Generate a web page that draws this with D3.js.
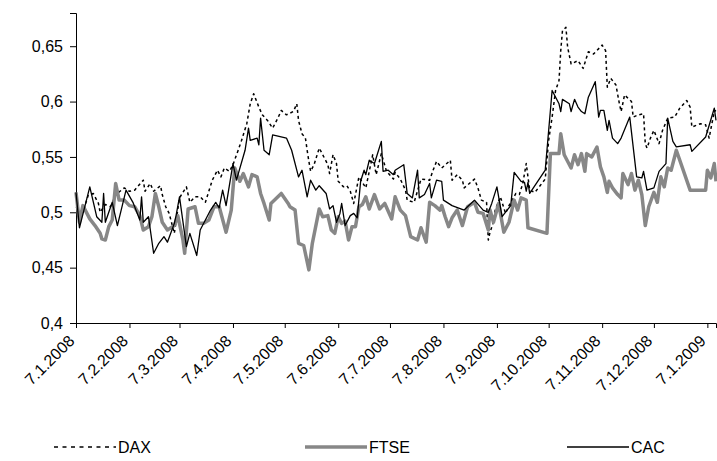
<!DOCTYPE html>
<html>
<head>
<meta charset="utf-8">
<script src="https://cdn.jsdelivr.net/npm/d3@7"></script>
<style>
  body { margin: 0; background: #fff; }
  svg { display: block; font-family: "Liberation Sans", Arial, sans-serif; }
</style>
</head>
<body>
<div class="chart"></div>
<script>
  'use strict';

  // tick values
  var yTicks = [0.4, 0.45, 0.5, 0.55, 0.6, 0.65];
  var xTickLabels = ['7.1.2008', '7.2.2008', '7.3.2008', '7.4.2008', '7.5.2008', '7.6.2008',
    '7.7.2008', '7.8.2008', '7.9.2008', '7.10.2008', '7.11.2008', '7.12.2008', '7.1.2009'];
  var seriesNames = ['DAX', 'FTSE', 'CAC'];

  var daxDates = ['7.1.2008','11.1.2008','14.1.2008','17.1.2008','20.1.2008','21.1.2008','24.1.2008','27.1.2008','30.1.2008',
    '4.2.2008','7.2.2008','10.2.2008','15.2.2008','16.2.2008','19.2.2008','21.2.2008','25.2.2008','26.2.2008','28.2.2008',
    '1.3.2008','4.3.2008','7.3.2008','11.3.2008','13.3.2008','16.3.2008','19.3.2008','22.3.2008','26.3.2008','29.3.2008','31.3.2008',
    '2.4.2008','5.4.2008','7.4.2008','10.4.2008','12.4.2008','15.4.2008','17.4.2008','19.4.2008','22.4.2008','24.4.2008','27.4.2008','30.4.2008',
    '3.5.2008','5.5.2008','8.5.2008','12.5.2008','14.5.2008','15.5.2008','17.5.2008','19.5.2008','20.5.2008','21.5.2008','22.5.2008','24.5.2008','27.5.2008','29.5.2008',
    '1.6.2008','2.6.2008','4.6.2008','6.6.2008','7.6.2008','10.6.2008','12.6.2008','14.6.2008','16.6.2008','18.6.2008','19.6.2008','23.6.2008','27.6.2008','29.6.2008',
    '2.7.2008','5.7.2008','9.7.2008','10.7.2008','13.7.2008','16.7.2008','17.7.2008','21.7.2008','25.7.2008','30.7.2008',
    '1.8.2008','3.8.2008','6.8.2008','11.8.2008','12.8.2008','15.8.2008','18.8.2008','19.8.2008','22.8.2008','25.8.2008','27.8.2008','29.8.2008',
    '1.9.2008','2.9.2008','3.9.2008','5.9.2008','6.9.2008','9.9.2008','12.9.2008','14.9.2008','18.9.2008','20.9.2008','22.9.2008','24.9.2008','26.9.2008','29.9.2008',
    '2.10.2008','5.10.2008','7.10.2008','9.10.2008','11.10.2008','13.10.2008','14.10.2008','15.10.2008','17.10.2008','18.10.2008','20.10.2008','24.10.2008','27.10.2008','30.10.2008',
    '2.11.2008','7.11.2008','9.11.2008','10.11.2008','12.11.2008','15.11.2008','17.11.2008','18.11.2008','20.11.2008','24.11.2008','25.11.2008','28.11.2008',
    '1.12.2008','2.12.2008','3.12.2008','5.12.2008','7.12.2008','10.12.2008','12.12.2008','15.12.2008','19.12.2008','22.12.2008','26.12.2008','28.12.2008','29.12.2008',
    '3.1.2009','6.1.2009','8.1.2009','11.1.2009','12.1.2009'];
  var daxValues = [0.505,0.500,0.515,0.517,0.508,0.500,0.507,0.505,0.516,
    0.522,0.519,0.520,0.529,0.519,0.526,0.519,0.524,0.516,0.505,
    0.499,0.481,0.513,0.523,0.509,0.514,0.514,0.509,0.529,0.538,0.532,
    0.540,0.537,0.543,0.556,0.565,0.580,0.598,0.607,0.595,0.588,0.583,0.576,
    0.585,0.592,0.588,0.591,0.598,0.583,0.571,0.567,0.556,0.546,0.537,0.543,0.558,0.552,
    0.543,0.535,0.552,0.544,0.528,0.523,0.524,0.519,0.508,0.524,0.532,0.522,0.552,0.534,
    0.553,0.537,0.530,0.536,0.530,0.520,0.511,0.509,0.530,0.529,
    0.538,0.546,0.540,0.547,0.529,0.534,0.529,0.522,0.526,0.530,0.522,0.511,
    0.509,0.475,0.482,0.491,0.502,0.514,0.499,0.506,0.517,0.516,0.526,0.544,0.520,0.518,
    0.524,0.530,0.565,0.586,0.610,0.619,0.646,0.664,0.667,0.649,0.634,0.637,0.630,0.645,
    0.643,0.651,0.646,0.613,0.621,0.615,0.598,0.591,0.606,0.600,0.586,0.588,
    0.589,0.562,0.558,0.567,0.574,0.562,0.574,0.585,0.586,0.594,0.601,0.595,0.577,
    0.580,0.579,0.567,0.591,0.592];

  var ftseDates = ['7.1.2008','9.1.2008','11.1.2008','15.1.2008','18.1.2008','21.1.2008','22.1.2008','24.1.2008','26.1.2008','28.1.2008','30.1.2008',
    '1.2.2008','4.2.2008','7.2.2008','10.2.2008','13.2.2008','15.2.2008','18.2.2008','20.2.2008','22.2.2008','24.2.2008','26.2.2008','29.2.2008',
    '4.3.2008','6.3.2008','9.3.2008','10.3.2008','12.3.2008','16.3.2008','18.3.2008','21.3.2008','24.3.2008','27.3.2008','30.3.2008',
    '3.4.2008','6.4.2008','8.4.2008','11.4.2008','13.4.2008','16.4.2008','18.4.2008','21.4.2008','23.4.2008','25.4.2008','28.4.2008','29.4.2008',
    '5.5.2008','9.5.2008','10.5.2008','13.5.2008','15.5.2008','18.5.2008','21.5.2008','23.5.2008','27.5.2008','29.5.2008',
    '1.6.2008','3.6.2008','5.6.2008','7.6.2008','9.6.2008','11.6.2008','13.6.2008','15.6.2008','17.6.2008','19.6.2008','21.6.2008','23.6.2008','25.6.2008','28.6.2008',
    '1.7.2008','4.7.2008','8.7.2008','10.7.2008','13.7.2008','16.7.2008','19.7.2008','23.7.2008','25.7.2008','28.7.2008','30.7.2008',
    '2.8.2008','5.8.2008','6.8.2008','8.8.2008','10.8.2008','12.8.2008','15.8.2008','18.8.2008','21.8.2008','25.8.2008','27.8.2008','30.8.2008',
    '2.9.2008','3.9.2008','5.9.2008','8.9.2008','11.9.2008','14.9.2008','17.9.2008','19.9.2008','21.9.2008','24.9.2008','25.9.2008',
    '6.10.2008','8.10.2008','13.10.2008','14.10.2008','16.10.2008','20.10.2008','22.10.2008','24.10.2008','26.10.2008','28.10.2008','29.10.2008',
    '1.11.2008','4.11.2008','6.11.2008','8.11.2008','10.11.2008','11.11.2008','13.11.2008','16.11.2008','18.11.2008','19.11.2008','22.11.2008','24.11.2008','26.11.2008','28.11.2008','30.11.2008',
    '2.12.2008','4.12.2008','7.12.2008','9.12.2008','11.12.2008','13.12.2008','15.12.2008','17.12.2008','20.12.2008','28.12.2008',
    '6.1.2009','7.1.2009','9.1.2009','11.1.2009','12.1.2009'];
  var ftseValues = [0.518,0.491,0.506,0.494,0.488,0.481,0.476,0.475,0.487,0.493,0.526,
    0.511,0.511,0.506,0.505,0.497,0.484,0.487,0.496,0.517,0.505,0.491,0.484,
    0.488,0.497,0.475,0.463,0.503,0.505,0.490,0.490,0.493,0.505,0.505,
    0.482,0.502,0.540,0.528,0.535,0.523,0.534,0.532,0.517,0.508,0.493,0.508,
    0.517,0.508,0.505,0.502,0.472,0.470,0.448,0.472,0.503,0.496,
    0.497,0.484,0.481,0.496,0.490,0.492,0.475,0.487,0.487,0.505,0.507,0.514,0.503,0.516,
    0.503,0.508,0.494,0.514,0.502,0.497,0.478,0.475,0.486,0.473,0.509,
    0.506,0.502,0.506,0.496,0.487,0.495,0.502,0.488,0.505,0.509,0.500,0.499,
    0.484,0.502,0.491,0.508,0.482,0.491,0.511,0.502,0.513,0.511,0.486,
    0.481,0.553,0.553,0.571,0.552,0.540,0.552,0.543,0.553,0.537,0.553,
    0.550,0.559,0.541,0.532,0.518,0.528,0.522,0.516,0.513,0.535,0.525,0.535,0.520,0.529,0.516,
    0.488,0.505,0.518,0.509,0.532,0.523,0.540,0.538,0.556,0.520,
    0.520,0.538,0.531,0.544,0.528];

  var cacDates = ['7.1.2008','9.1.2008','15.1.2008','19.1.2008','22.1.2008','23.1.2008','24.1.2008','28.1.2008','31.1.2008',
    '5.2.2008','9.2.2008','13.2.2008','14.2.2008','15.2.2008','18.2.2008','21.2.2008','24.2.2008','27.2.2008','29.2.2008',
    '4.3.2008','5.3.2008','7.3.2008','11.3.2008','13.3.2008','17.3.2008','19.3.2008','25.3.2008','28.3.2008','30.3.2008',
    '1.4.2008','3.4.2008','7.4.2008','9.4.2008','14.4.2008','16.4.2008','17.4.2008','21.4.2008','22.4.2008','23.4.2008','25.4.2008','28.4.2008','30.4.2008',
    '8.5.2008','11.5.2008','15.5.2008','17.5.2008','20.5.2008','22.5.2008','25.5.2008','27.5.2008','31.5.2008',
    '2.6.2008','4.6.2008','6.6.2008','8.6.2008','9.6.2008','11.6.2008','14.6.2008','16.6.2008','18.6.2008','20.6.2008','22.6.2008','23.6.2008','25.6.2008','28.6.2008','29.6.2008',
    '2.7.2008','3.7.2008','6.7.2008','9.7.2008','10.7.2008','15.7.2008','17.7.2008','20.7.2008','23.7.2008','24.7.2008','27.7.2008','30.7.2008','31.7.2008',
    '3.8.2008','6.8.2008','7.8.2008','12.8.2008','19.8.2008','25.8.2008','30.8.2008',
    '2.9.2008','4.9.2008','7.9.2008','10.9.2008','15.9.2008','17.9.2008','21.9.2008','23.9.2008','24.9.2008','25.9.2008','26.9.2008',
    '5.10.2008','9.10.2008','13.10.2008','14.10.2008','15.10.2008','19.10.2008','20.10.2008','22.10.2008','24.10.2008','26.10.2008','28.10.2008','30.10.2008',
    '3.11.2008','5.11.2008','6.11.2008','8.11.2008','10.11.2008','11.11.2008','13.11.2008','16.11.2008','18.11.2008','23.11.2008','27.11.2008','30.11.2008',
    '1.12.2008','3.12.2008','7.12.2008','10.12.2008','14.12.2008','15.12.2008','18.12.2008','20.12.2008','28.12.2008','29.12.2008',
    '6.1.2009','11.1.2009','12.1.2009'];
  var cacValues = [0.518,0.486,0.523,0.496,0.491,0.517,0.491,0.509,0.488,
    0.520,0.509,0.493,0.514,0.491,0.496,0.463,0.472,0.478,0.473,
    0.490,0.497,0.514,0.469,0.481,0.461,0.484,0.502,0.509,0.504,
    0.520,0.506,0.544,0.529,0.556,0.576,0.565,0.567,0.561,0.585,0.556,0.552,0.570,
    0.567,0.556,0.532,0.538,0.514,0.529,0.520,0.524,0.517,
    0.503,0.506,0.491,0.499,0.508,0.488,0.497,0.499,0.495,0.528,0.538,0.534,0.547,0.544,0.549,
    0.564,0.537,0.538,0.534,0.538,0.543,0.517,0.513,0.538,0.513,0.516,0.526,0.513,
    0.529,0.528,0.511,0.506,0.502,0.511,0.502,
    0.500,0.508,0.523,0.496,0.506,0.536,0.528,0.527,0.519,0.527,0.517,
    0.538,0.610,0.598,0.591,0.602,0.598,0.591,0.602,0.595,0.591,0.589,0.604,
    0.618,0.586,0.592,0.592,0.574,0.583,0.567,0.562,0.567,0.586,0.532,0.531,
    0.537,0.520,0.522,0.537,0.544,0.585,0.564,0.559,0.561,0.555,
    0.568,0.594,0.583];

  var width = 717, height = 461;
  var margin = {top: 13, right: 1, bottom: 138, left: 76};

  var parseDate = d3.timeParse('%d.%m.%Y');
  var formatDate = d3.timeFormat('%-d.%-m.%Y');
  var formatY = function(d){ return d3.format('.2~f')(d).replace('.', ','); };

  var xScale = d3.scaleTime()
    .domain([parseDate('7.1.2008'), parseDate('12.1.2009')])
    .range([margin.left, width - margin.right]);

  var yScale = d3.scaleLinear()
    .domain([0.4, 0.68])
    .range([height - margin.bottom, margin.top]);

  var svg = d3.select('.chart')
    .append('svg')
    .attr('width', width)
    .attr('height', height);

  var zip = function(dates, values){
    return dates.map(function(d, i){ return {date: parseDate(d), value: values[i]}; });
  };

  var series = [
    {name: seriesNames[0], data: zip(daxDates, daxValues), color: '#000', width: 1.5, dash: '3,3', legendDash: '4,4.5'},
    {name: seriesNames[1], data: zip(ftseDates, ftseValues), color: '#878787', width: 3.5, dash: null, legendDash: null},
    {name: seriesNames[2], data: zip(cacDates, cacValues), color: '#000', width: 1.3, dash: null, legendDash: null}
  ];

  // y axis
  var yAxis = d3.axisLeft(yScale)
    .tickValues(yTicks)
    .tickSize(6)
    .tickPadding(7)
    .tickFormat(formatY);

  var gy = svg.append('g')
    .attr('transform', 'translate(' + margin.left + ',0)')
    .call(yAxis);
  gy.selectAll('text').attr('font-size', 16).attr('fill', '#000');

  // x axis, labels slanted up to the tick
  var xAxis = d3.axisBottom(xScale)
    .tickValues(xTickLabels.map(parseDate))
    .tickSize(5)
    .tickFormat(formatDate);

  var gx = svg.append('g')
    .attr('transform', 'translate(0,' + yScale(0.4) + ')')
    .call(xAxis);
  gx.selectAll('text')
    .attr('font-size', 16)
    .attr('fill', '#000')
    .attr('text-anchor', 'end')
    .attr('y', 0)
    .attr('dy', 0)
    .attr('transform', 'translate(-1,19) rotate(-45)');

  svg.selectAll('.domain').attr('stroke', '#000');
  svg.selectAll('.tick line').attr('stroke', '#000');

  // lines
  var line = d3.line()
    .x(function(d){ return xScale(d.date); })
    .y(function(d){ return yScale(d.value); });

  svg.selectAll('path.series')
    .data(series)
    .enter().append('path')
    .attr('class', 'series')
    .attr('fill', 'none')
    .attr('stroke', function(d){ return d.color; })
    .attr('stroke-width', function(d){ return d.width; })
    .attr('stroke-dasharray', function(d){ return d.dash; })
    .attr('stroke-linejoin', 'round')
    .attr('d', function(d){ return line(d.data); });

  // legend
  var legendY = 447;
  var legendX = [54, 305, 567];
  var legend = svg.selectAll('g.legend')
    .data(series)
    .enter().append('g')
    .attr('class', 'legend')
    .attr('transform', function(d, i){ return 'translate(' + legendX[i] + ',' + legendY + ')'; });

  legend.append('line')
    .attr('x1', 0).attr('x2', 62)
    .attr('stroke', function(d){ return d.color; })
    .attr('stroke-width', function(d){ return d.width; })
    .attr('stroke-dasharray', function(d){ return d.legendDash; });

  legend.append('text')
    .attr('x', 64)
    .attr('dy', '0.36em')
    .attr('font-size', 16)
    .text(function(d){ return d.name; });
</script>
</body>
</html>
